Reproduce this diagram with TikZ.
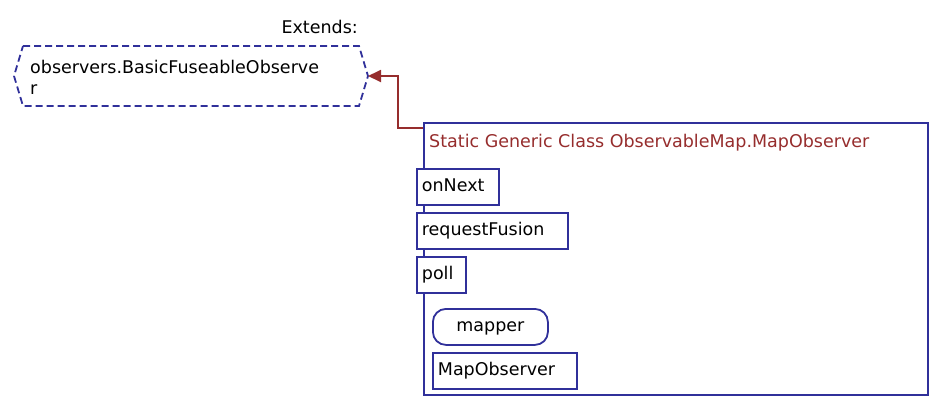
\documentclass[tikz,border=0pt]{standalone}
\usepackage{fontspec}
\setmainfont{DejaVu Sans}
\usetikzlibrary{arrows.meta,positioning}
\definecolor{umlblue}{HTML}{30309A}
\definecolor{umlred}{HTML}{962D2D}

\tikzset{
  umlfont/.style={font=\fontsize{17.5}{21}\selectfont},
  member/.style={draw=umlblue,fill=white,line width=1.8pt,anchor=north west,umlfont,
    inner xsep=5pt,inner ysep=0pt,minimum height=36pt,align=left,
    text height=13pt,text depth=3.4pt},
}

\begin{document}
\begin{tikzpicture}[x=1pt,y=-1pt]
  \useasboundingbox (0,0) rectangle (940,408);

  % Parent class (hexagon)
  \draw[umlblue,line width=1.8pt,dash pattern=on 7pt off 4pt]
    (23,46) -- (359,46) -- (368,76) -- (359,106) -- (23,106) -- (14,76) -- cycle;
  \coordinate (parentE) at (368,76);
  \node[umlfont,anchor=base west,inner sep=0pt,align=left] (parent) at (30,94)
    {observers.BasicFuseableObserve\\r};
  \node[umlfont,anchor=base east,inner sep=0pt] (extends) at (358,33) {Extends:};

  % Class box
  \node[draw=umlblue,line width=1.8pt,anchor=north west,minimum width=504pt,
    minimum height=272pt,inner sep=0pt] (cls) at (423,122) {};
  \node[umlfont,umlred,anchor=base west,inner sep=0pt] (title) at (429,147)
    {Static Generic Class ObservableMap.MapObserver};

  % Members
  \node[member,text width=72pt] (onnext) at (416,168) {onNext};
  \node[member,text width=141pt] (fusion) at (416,212) {requestFusion};
  \node[member,text width=39pt] (poll) at (416,256) {poll};
  \node[member,rounded corners=13pt,align=center,text width=105pt] (mapper) at (432,308) {mapper};
  \node[member,text width=134pt] (ctor) at (432,352) {MapObserver};

  % Extends link
  \draw[umlred,line width=1.8pt,-{Triangle[length=13pt,width=12pt]}]
    ([yshift=-6pt]cls.north west) -- ++(-25,0) |- (parentE);
\end{tikzpicture}
\end{document}
